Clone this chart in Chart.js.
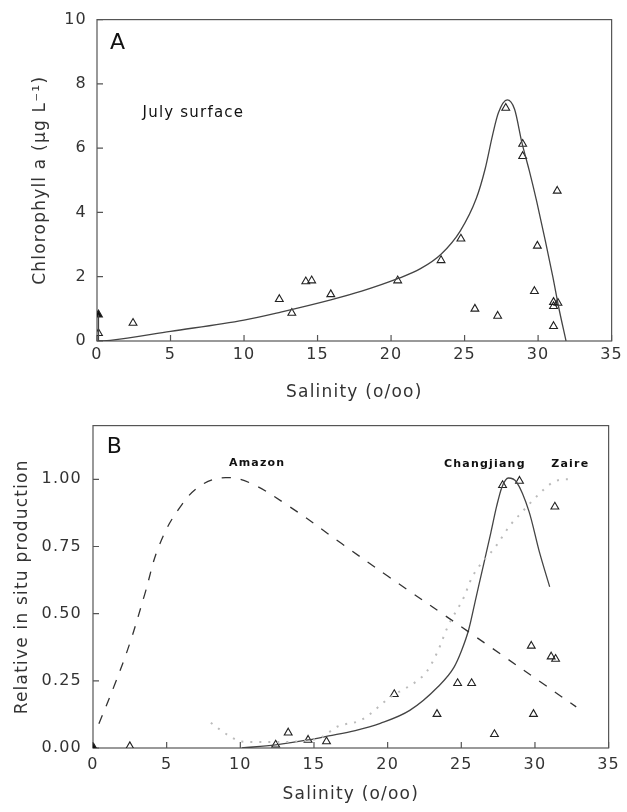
<!DOCTYPE html>
<html>
<head>
<meta charset="utf-8">
<script src="https://cdn.jsdelivr.net/npm/chart.js@4"></script>
<style>
  html, body { margin: 0; padding: 0; background: #fff; }
  #wrap { position: relative; width: 627px; height: 812px; }
  canvas { position: absolute; left: 0; }
  #chartA { top: 0; width: 627px; height: 405px; }
  #chartB { top: 405px; width: 627px; height: 407px; }
</style>
</head>
<body>
<div id="wrap">
  <canvas id="chartA" width="627" height="405"></canvas>
  <canvas id="chartB" width="627" height="407"></canvas>
</div>
<script>
// ---- Panel A: July surface chlorophyll vs salinity ----
const obsAX = [2.45, 12.4, 13.25, 14.2, 14.6, 15.9, 20.45, 23.4, 24.75, 25.7, 27.25, 27.8, 28.95, 28.95, 29.75, 29.95, 31.05, 31.05, 31.05, 31.35, 31.3, 0.1];
const obsAY = [0.56, 1.30, 0.87, 1.85, 1.88, 1.45, 1.88, 2.51, 3.18, 1.00, 0.78, 7.25, 6.13, 5.75, 1.55, 2.96, 1.21, 1.08, 0.46, 1.18, 4.67, 0.24];
const filledAX = [0.1];
const filledAY = [0.82];
const stubAX = [0.1, 0.1];
const stubAY = [0.82, 0];
const curveAX = [0.1, 0.9, 5, 10, 12.5, 15.9, 18, 20.4, 22, 23.4, 24.7, 25.8, 26.4, 26.9, 27.3, 27.9, 28.4, 28.9, 29.4, 29.9, 30.5, 31.0, 31.4, 31.9];
const curveAY = [0, 0.02, 0.3, 0.65, 0.9, 1.28, 1.55, 1.93, 2.25, 2.7, 3.42, 4.44, 5.36, 6.4, 7.1, 7.5, 7.21, 6.17, 5.3, 4.35, 3.1, 2.0, 1.05, 0];

// ---- Panel B: relative in situ production ----
const obsBX = [2.5, 12.4, 13.25, 14.6, 15.85, 20.45, 23.35, 24.75, 25.7, 27.25, 27.8, 28.95, 29.75, 29.9, 31.1, 31.4, 31.35];
const obsBY = [0.006, 0.012, 0.057, 0.03, 0.024, 0.2, 0.126, 0.241, 0.241, 0.051, 0.978, 0.994, 0.38, 0.126, 0.34, 0.331, 0.898];
const filledBX = [0.05];
const filledBY = [0.0];
const amazonX = [0.4, 1.5, 2.5, 3.5, 4.5, 5.9, 7.4, 9.0, 10.6, 13.3, 16.9, 20, 25.4, 32.8];
const amazonY = [0.09, 0.24, 0.39, 0.57, 0.755, 0.896, 0.98, 1.006, 0.988, 0.9, 0.76, 0.64, 0.436, 0.153];
const changX = [10.1, 12.4, 14.6, 16, 17.8, 19.5, 21.5, 23.4, 24.5, 25.0, 25.5, 26.0, 26.5, 27.0, 27.4, 27.75, 28.2, 28.75, 29.6, 30.3, 31.0];
const changY = [0, 0.012, 0.03, 0.045, 0.065, 0.092, 0.14, 0.227, 0.30, 0.36, 0.44, 0.56, 0.68, 0.80, 0.90, 0.97, 1.005, 0.99, 0.88, 0.73, 0.6];
const zaireX = [8.0, 8.7, 9.3, 10.1, 12, 14, 15.5, 16.6, 18.2, 20.2, 22.0, 22.7, 23.4, 24.1, 25.2, 25.7, 27.4, 28.3, 28.9, 30.5, 31.2, 32.0, 32.7];
const zaireY = [0.094, 0.065, 0.043, 0.024, 0.022, 0.025, 0.04, 0.08, 0.104, 0.19, 0.25, 0.288, 0.36, 0.454, 0.564, 0.632, 0.755, 0.828, 0.865, 0.957, 0.988, 1.0, 1.0];

const xTicks = [0, 5, 10, 15, 20, 25, 30, 35];
const yTicksA = [0, 2, 4, 6, 8, 10];
const yTicksB = [0, 0.25, 0.5, 0.75, 1.0];

const FONT = 'DejaVu Sans';
const INK = '#333';

function pts(xs, ys) {
  return xs.map((x, i) => ({ x: x, y: ys[i] }));
}

// wider lettering, closer to the original typeface
const spacing = {
  id: 'spacing',
  beforeLayout(chart) { chart.ctx.letterSpacing = '1.2px'; },
  beforeDraw(chart) { chart.ctx.letterSpacing = '1.2px'; }
};

// box around plot + inward tick marks
const frame = {
  id: 'frame',
  beforeDatasetsDraw(chart) {
    const { ctx, chartArea: a, scales } = chart;
    ctx.save();
    ctx.strokeStyle = '#555';
    ctx.lineWidth = 1.2;
    ctx.strokeRect(a.left, a.top, a.right - a.left, a.bottom - a.top);
    ctx.beginPath();
    scales.x.ticks.forEach(t => {
      const px = scales.x.getPixelForValue(t.value);
      ctx.moveTo(px, a.bottom);
      ctx.lineTo(px, a.bottom - 6);
    });
    scales.y.ticks.forEach(t => {
      const py = scales.y.getPixelForValue(t.value);
      ctx.moveTo(a.left, py);
      ctx.lineTo(a.left + 6, py);
    });
    ctx.stroke();
    ctx.restore();
  }
};

// text labels placed in data units
const notes = {
  id: 'notes',
  afterDatasetsDraw(chart, args, opts) {
    const { ctx, scales } = chart;
    (opts.items || []).forEach(n => {
      ctx.save();
      ctx.font = n.font;
      ctx.fillStyle = '#111';
      ctx.textAlign = n.align || 'left';
      ctx.textBaseline = 'middle';
      ctx.fillText(n.text, scales.x.getPixelForValue(n.x), scales.y.getPixelForValue(n.y));
      ctx.restore();
    });
  }
};

function xScale(axisHeight, labelPad, titlePad) {
  return {
    type: 'linear', min: 0, max: 35,
    afterBuildTicks: s => { s.ticks = xTicks.map(v => ({ value: v })); },
    afterFit: s => { s.height = axisHeight; },
    grid: { display: false, drawTicks: false },
    border: { display: false },
    ticks: { autoSkip: false, maxRotation: 0, padding: labelPad, color: INK, font: { family: FONT, size: 16 } },
    title: { display: true, text: 'Salinity (o/oo)', color: INK, font: { family: FONT, size: 17 }, padding: { top: 0, bottom: titlePad } }
  };
}

function yScale(max, ticks, width, labelPad, title, titlePad, fmt) {
  return {
    type: 'linear', min: 0, max: max,
    afterBuildTicks: s => { s.ticks = ticks.map(v => ({ value: v })); },
    afterFit: s => { s.width = width; },
    grid: { display: false, drawTicks: false },
    border: { display: false },
    ticks: { autoSkip: false, padding: labelPad, color: INK, font: { family: FONT, size: 16 }, callback: fmt },
    title: { display: true, text: title, color: INK, font: { family: FONT, size: 17 }, padding: { top: titlePad, bottom: 0 } }
  };
}

const triangle = {
  type: 'scatter', pointStyle: 'triangle', pointRadius: 4.5,
  borderColor: '#222', backgroundColor: 'rgba(255,255,255,0)', pointBorderWidth: 1.1, showLine: false
};

new Chart(document.getElementById('chartA'), {
  type: 'scatter',
  data: {
    datasets: [
      { type: 'line', data: pts(curveAX, curveAY), borderColor: '#444', borderWidth: 1.3, pointRadius: 0, cubicInterpolationMode: 'monotone', fill: false },
      { type: 'line', data: pts(stubAX, stubAY), borderColor: '#444', borderWidth: 1.3, pointRadius: 0, fill: false },
      Object.assign({}, triangle, { data: pts(obsAX, obsAY) }),
      Object.assign({}, triangle, { data: pts(filledAX, filledAY), backgroundColor: '#111' })
    ]
  },
  options: {
    responsive: false,
    animation: false,
    layout: { padding: { left: 0, right: 11, top: 16, bottom: 0 } },
    scales: {
      x: xScale(64, 4, 2),
      y: yScale(10, yTicksA, 97, 10, 'Chlorophyll a (\u03BCg L\u207B\u00B9)', 30, v => String(v))
    },
    plugins: {
      legend: { display: false },
      tooltip: { enabled: false },
      notes: {
        items: [
          { text: 'A', x: 0.88, y: 9.26, font: '22px "' + FONT + '"' },
          { text: 'July surface', x: 3.1, y: 7.1, font: '15px "' + FONT + '"' }
        ]
      }
    }
  },
  plugins: [spacing, frame, notes]
});

new Chart(document.getElementById('chartB'), {
  type: 'scatter',
  data: {
    datasets: [
      { type: 'line', data: pts(zaireX, zaireY), borderColor: '#bbb', borderWidth: 2, borderDash: [2, 7], pointRadius: 0, cubicInterpolationMode: 'monotone', fill: false },
      { type: 'line', data: pts(amazonX, amazonY), borderColor: '#333', borderWidth: 1.3, borderDash: [9, 10], pointRadius: 0, tension: 0.4, fill: false },
      { type: 'line', data: pts(changX, changY), borderColor: '#444', borderWidth: 1.3, pointRadius: 0, cubicInterpolationMode: 'monotone', fill: false },
      Object.assign({}, triangle, { data: pts(obsBX, obsBY) }),
      Object.assign({}, triangle, { data: pts(filledBX, filledBY), backgroundColor: '#111' })
    ]
  },
  options: {
    responsive: false,
    animation: false,
    layout: { padding: { left: 0, right: 14, top: 18, bottom: 0 } },
    scales: {
      x: xScale(64, 7, 7),
      y: yScale(1.2, yTicksB, 93, 11, 'Relative in situ production', 12, v => v.toFixed(2))
    },
    plugins: {
      legend: { display: false },
      tooltip: { enabled: false },
      notes: {
        items: [
          { text: 'B', x: 0.94, y: 1.12, font: '22px "' + FONT + '"' },
          { text: 'Amazon', x: 11.14, y: 1.061, font: 'bold 11px "' + FONT + '"', align: 'center' },
          { text: 'Changjiang', x: 26.6, y: 1.055, font: 'bold 11px "' + FONT + '"', align: 'center' },
          { text: 'Zaire', x: 32.4, y: 1.058, font: 'bold 11px "' + FONT + '"', align: 'center' }
        ]
      }
    }
  },
  plugins: [spacing, frame, notes]
});
</script>
</body>
</html>
